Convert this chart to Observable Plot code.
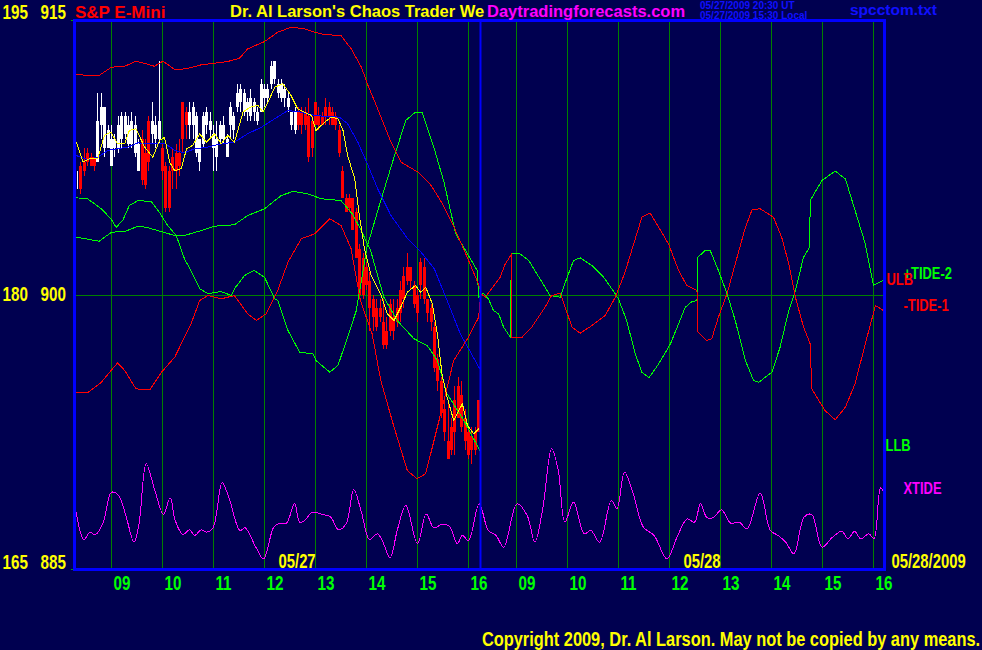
<!DOCTYPE html>
<html><head><meta charset="utf-8">
<script src="https://cdn.jsdelivr.net/npm/d3@7"></script>
<script src="https://cdn.jsdelivr.net/npm/@observablehq/plot@0.6"></script>
<style>
html,body{margin:0;padding:0;background:#000050;}
#wrap{position:relative;width:982px;height:650px;overflow:hidden;background:#000050;}
#chart{position:absolute;left:0;top:0;}
.t{position:absolute;white-space:nowrap;line-height:1;font-family:"Liberation Sans",Arial,sans-serif;font-weight:bold;}
.n{transform:scaleX(0.84);transform-origin:right center;}
</style></head><body>
<div id="wrap"><div id="chart"></div>
<div class="t" style="left:75px;top:4px;font-size:17px;color:#ff0000">S&amp;P E-Mini</div>
<div class="t" style="left:230px;top:3px;font-size:16.5px;color:#ffff00">Dr. Al Larson's Chaos Trader We</div>
<div class="t" style="left:487px;top:3px;font-size:16.5px;color:#ff00ff">Daytradingforecasts.com</div>
<div class="t" style="left:700px;top:1px;font-size:10px;color:#1010ff">05/27/2009 20:30 UT</div>
<div class="t" style="left:700px;top:10.5px;font-size:10px;color:#1010ff">05/27/2009 15:30 Local</div>
<div class="t" style="left:850px;top:2px;font-size:15.5px;color:#1010ff">spcctom.txt</div>
<div class="t n" style="right:2px;top:630px;font-size:19.5px;color:#ffff00">Copyright 2009, Dr. Al Larson. May not be copied by any means.</div>
</div>
<script>
// ---- axis / tick data ----
const tideTicks = [165, 180, 195];
const priceTicks = [885, 900, 915];
const hourLabels = ["09","10","11","12","13","14","15","16"];
const day1Hours = [0,1,2,3,4,5,6,7];       // hours after 09:00, session 05/27
const day2Offset = 7.94;                    // chart-hours where session 05/28 09:00 sits
const sessionBreak = 7.235;
const dateLabels = ["05/27", "05/28", "05/28/2009"];

// ---- 4-minute price bars, session 05/27 starting 08:20 ----
const firstBarMin = 500, barMinutes = 4;
const open = [906.25,907,907.25,907.75,907.5,907.5,907.25,909.25,908,908,907,908,908,908.5,908.75,908.25,908.25,907.75,906.75,908.5,
907.75,909.5,908.75,908.5,908.5,908,907,906.75,907.5,907.75,907.75,910.5,910,909.25,909.25,907.75,907.25,908.25,909.25,909,
908,907.5,908.5,908.5,907.5,909.25,909,910.25,910.5,910,910,909.75,910,909.5,910,910.75,910.75,911.5,911.75,911,
910.75,910.75,910.25,909.25,909,910,910,910,909.75,909.5,910.5,909.75,909.75,910.25,910.25,910,909.75,909,906.75,905.25,
905.25,905.25,904.5,902.5,902,901.5,900.75,899.75,899.25,899.25,898.5,898,899.5,898.75,899.25,900.25,901,901.5,901.5,900.5,
900,901.75,901.5,899.75,899.25,898.25,896.5,895.25,893.75,892,892.75,894.25,895,894.5,893.25,892.5,892.25,892.5,894.25];
const high = [906.75,907.25,908,908,907.75,907.5,911,911,910.25,909.25,909.25,908.75,909.75,910,910,909.75,910,909.75,908.5,909,
908.5,909.75,910.5,909.75,912.75,908.25,907.25,907,908,908.25,908.5,910.5,910.25,910.5,910.5,910,908.5,910,910.25,910,
909.25,909.5,909.5,909.75,908.75,910.5,910,911.5,911.5,911.25,910.75,911.25,910.75,910.25,911.75,911.5,911.5,912.75,912.75,911.75,
911.75,911.5,911,910,910.25,910.25,910.25,910.25,910.75,909.75,910.5,910.25,910,910.75,910.5,910.25,910,909.25,907,905.5,
905.5,905.25,904.75,902.75,902.25,901.75,901.25,900,899.75,899.75,899.75,898.75,899.75,899.75,899.75,900.75,901.5,902.25,901.5,900.75,
900.25,902,902,899.75,899.5,898.5,896.75,895.5,894.25,894.25,893.25,895,895.5,895.25,893.75,892.75,892.75,892.75,894.25];
const low = [905.75,905.5,906.5,907,907,906.75,907.25,908.5,907.5,908,907,907.5,907.75,908,908.5,908,908,907.5,906.75,906,
905.75,906.75,908.25,908,908.25,906.25,904.5,904.5,905.75,905.75,906.5,907.75,908.5,908.5,908.5,907.5,906.75,908,908.75,908.5,
906.75,906.75,908.25,908.25,907.5,908.5,908.5,910,910,909.75,909.5,909.5,909.5,909.25,910,910.25,910.5,911.25,911.5,910.75,
910.5,910.25,910,909,908.75,909,908.75,909,907.25,907.5,909.25,909,909.25,909.25,909.25,909.25,909,907.5,905.25,904.5,
904.5,903.5,902,900,899.75,900.25,898,898,898,898.5,897,897,897.75,897.5,898.25,898.5,899.25,900.5,900.25,899.25,
898.5,899.75,899.5,898.5,898,895.75,894.75,893.25,892,891,891.25,891.25,893.25,892.5,891.5,891,890.75,891.25,892.5];
const close = [906.25,905.75,906.75,907.25,907,907,909.5,910.25,910.25,909,908.5,908.5,909.25,909.75,909.75,909.25,909.5,909.25,908.25,906.25,
906,907.25,909.5,909.25,909.5,906.75,904.75,904.75,906.75,906.75,907,908.5,909.25,910,910.25,909.75,908.5,909.75,910,909.5,
908.75,908.5,909.25,909.25,908.5,910.25,909.75,911,911.25,911,910.5,910.75,910.5,910,911.5,911.25,911.25,912.5,912.75,911.5,
911.5,911.25,910.75,910,910,909.25,909.25,909.25,907.5,908,909.25,909.25,909.25,909.75,909.75,909.25,909.25,907.75,905.25,904.5,
904.75,903.5,902,900,900,900.5,899.25,898.75,898.25,898.75,897.25,897.25,898,898,898.5,899,899.75,900.75,900.75,899.5,
899,900.5,899.75,899,898.5,896,895.25,893.5,892.5,891,891.5,892.5,893.25,892.75,892,891.25,891.5,891.5,892.5];

// ---- series: [chart hours, value] ----
const ulb = [[-0.69,912.03],[-0.24,912.0],[0.0,912.45],[0.26,912.5],[0.48,912.78],[0.68,912.63],[0.84,912.5],[1.01,912.78],[1.24,912.32],[1.47,912.36],[1.76,912.58],[2.02,912.67],[2.28,912.76],[2.51,912.94],[2.67,913.45],[3.0,913.85],[3.26,914.36],[3.52,914.63],[3.78,914.55],[3.98,914.36],[4.18,914.23],[4.5,914.18],[4.7,913.45],[4.9,912.45],[5.03,911.45],[5.22,910.17],[5.48,908.35],[5.68,907.26],[6.01,906.71],[6.27,905.98],[6.47,905.07],[6.73,903.62],[6.96,902.16],[7.18,900.7],[7.24,900.25]];
const llb = [[-0.69,903.16],[-0.24,902.94],[0.0,903.43],[0.26,903.47],[0.52,903.76],[0.68,903.7],[0.91,903.52],[1.24,903.25],[1.43,903.25],[1.76,903.52],[2.02,903.76],[2.41,903.84],[2.67,904.34],[3.0,904.71],[3.33,905.44],[3.56,905.66],[3.85,905.53],[4.11,905.26],[4.5,905.16],[4.72,904.44],[4.88,903.62],[5.08,902.43],[5.34,899.88],[5.6,898.61],[5.93,897.61],[6.19,897.24],[6.39,896.42],[6.58,894.6],[6.91,893.14],[7.24,891.41]];
const tide1 = [[-0.73,174.66],[-0.47,174.66],[-0.2,175.23],[-0.01,175.87],[0.12,176.29],[0.26,175.87],[0.48,174.87],[0.75,174.82],[0.98,175.78],[1.24,176.6],[1.43,177.69],[1.56,178.43],[1.73,179.7],[1.89,179.97],[2.15,179.79],[2.41,179.97],[2.67,178.97],[2.84,178.61],[3.03,178.97],[3.26,180.25],[3.46,181.79],[3.72,183.07],[3.98,183.34],[4.28,184.16],[4.5,183.8],[4.7,182.52],[4.75,181.7],[4.88,179.7],[5.11,177.88],[5.28,175.33],[5.54,172.78],[5.8,170.41],[5.99,169.96],[6.16,170.23],[6.39,172.78],[6.71,176.42],[6.98,177.61],[7.2,178.79],[7.24,180.07],
[7.33,179.88],[7.46,180.36],[7.62,180.97],[7.72,181.7],[7.85,182.25],[7.851,177.69],[8.05,177.69],[8.24,178.24],[8.5,179.33],[8.63,179.97],[8.8,180.1],[9.03,178.24],[9.19,177.91],[9.42,178.33],[9.68,178.88],[9.88,179.88],[10.07,181.25],[10.24,182.8],[10.4,184.25],[10.56,184.49],[10.73,183.7],[10.92,182.8],[11.12,181.34],[11.28,180.52],[11.48,180.25],[11.5,177.97],[11.67,177.51],[11.77,177.61],[11.9,178.79],[12.07,180.07],[12.23,181.7],[12.43,183.7],[12.56,184.66],[12.72,184.71],[12.98,184.25],[13.14,183.16],[13.28,181.7],[13.41,179.88],[13.57,178.24],[13.7,177.33],[13.73,174.87],[13.99,173.69],[14.19,173.18],[14.39,173.87],[14.58,175.15],[14.78,177.33],[14.98,179.43],[15.15,179.12]];
const tide2 = [[-0.69,185.31],[-0.47,185.26],[-0.2,184.71],[-0.01,184.16],[0.09,183.7],[0.22,184.07],[0.35,184.89],[0.52,185.16],[0.78,185.11],[0.94,184.52],[1.1,183.8],[1.27,183.25],[1.43,181.98],[1.59,181.16],[1.73,180.34],[1.89,180.07],[2.15,180.19],[2.35,179.97],[2.41,180.34],[2.61,181.07],[2.8,181.34],[3.0,180.97],[3.2,179.79],[3.26,179.7],[3.46,178.06],[3.69,176.87],[3.95,176.79],[4.01,176.42],[4.28,175.78],[4.44,176.15],[4.63,177.69],[4.8,179.15],[5.01,182.61],[5.28,185.16],[5.54,187.53],[5.77,189.54],[5.96,189.99],[6.09,189.99],[6.32,188.08],[6.52,186.16],[6.75,183.34],[6.98,182.25],[7.17,181.34],[7.2,179.88],
[7.29,180.1],[7.39,179.79],[7.49,179.15],[7.59,178.97],[7.69,178.24],[7.82,177.69],[7.84,182.25],[8.01,182.25],[8.18,181.89],[8.34,181.16],[8.5,180.43],[8.6,179.97],[8.8,179.88],[8.9,180.7],[9.06,181.89],[9.19,182.03],[9.42,181.61],[9.65,180.97],[9.81,180.34],[9.94,179.79],[10.1,178.61],[10.27,176.79],[10.4,175.78],[10.54,175.48],[10.73,176.24],[10.96,177.33],[11.12,178.43],[11.25,179.33],[11.38,179.64],[11.48,179.7],[11.5,182.07],[11.64,182.43],[11.74,182.43],[11.9,181.34],[12.07,180.07],[12.23,178.61],[12.43,176.42],[12.59,175.33],[12.69,175.23],[12.95,175.78],[13.11,177.15],[13.28,179.15],[13.41,180.25],[13.57,182.07],[13.69,182.61],[13.7,185.16],[13.93,186.26],[14.19,186.77],[14.39,186.35],[14.58,184.62],[14.78,182.8],[14.94,180.52],[15.15,180.83]];
const slowAvg = [[-0.69,907.62],[-0.47,907.4],[-0.27,907.53],[-0.07,907.9],[0.12,907.99],[0.32,908.08],[0.52,908.32],[0.68,908.26],[0.84,908.26],[1.04,908.3],[1.24,907.9],[1.43,907.77],[1.63,907.99],[1.89,908.08],[2.15,908.26],[2.41,908.35],[2.67,908.81],[2.94,909.17],[3.2,909.63],[3.46,910.08],[3.72,909.99],[3.98,909.81],[4.24,909.75],[4.47,909.72],[4.63,909.36],[4.83,908.35],[5.03,907.08],[5.22,905.8],[5.48,904.34],[5.81,903.07],[6.07,902.34],[6.33,901.43],[6.58,899.7],[6.84,897.88],[7.22,895.97]];
const fastAvg = [[-0.69,908.35],[-0.56,907.26],[-0.43,907.44],[-0.27,907.44],[-0.14,908.72],[-0.01,908.9],[0.12,908.26],[0.26,908.26],[0.35,908.99],[0.48,909.08],[0.65,908.08],[0.81,907.53],[0.94,908.44],[1.04,908.62],[1.14,907.26],[1.24,906.8],[1.37,906.9],[1.47,907.99],[1.59,908.17],[1.73,908.81],[1.86,908.35],[2.02,908.81],[2.15,908.26],[2.28,908.72],[2.41,908.35],[2.58,909.99],[2.71,910.26],[2.87,910.36],[2.97,909.99],[3.07,910.54],[3.2,911.36],[3.36,911.54],[3.52,910.9],[3.65,910.17],[3.78,909.99],[3.92,909.81],[4.01,908.99],[4.18,909.44],[4.31,909.72],[4.44,909.63],[4.54,908.99],[4.63,907.62],[4.77,906.35],[4.86,904.34],[4.96,902.52],[5.09,901.07],[5.29,899.97],[5.41,898.97],[5.54,898.61],[5.67,899.33],[5.8,900.15],[5.96,900.52],[6.06,900.15],[6.16,900.43],[6.29,899.52],[6.39,897.88],[6.48,895.69],[6.58,894.42],[6.71,893.14],[6.81,893.69],[6.88,894.05],[6.98,892.87],[7.1,892.42],[7.2,892.69]];
const xtide = [[-0.71,168.4],[-0.54,166.64],[-0.42,167.04],[-0.32,166.9],[-0.17,167.5],[0.0,169.22],[0.14,169.04],[0.29,167.86],[0.44,166.49],[0.54,167.5],[0.68,170.78],[0.85,169.32],[1.02,168.01],[1.15,168.92],[1.25,167.68],[1.4,166.91],[1.53,167.17],[1.63,166.86],[1.76,167.17],[1.86,167.04],[1.99,167.28],[2.17,169.74],[2.3,168.95],[2.52,167.13],[2.62,167.28],[2.83,166.22],[2.98,165.58],[3.18,167.31],[3.28,167.5],[3.43,167.53],[3.59,168.62],[3.69,167.58],[3.79,167.68],[3.94,168.13],[4.14,168.01],[4.3,167.86],[4.45,167.17],[4.6,167.5],[4.75,169.37],[4.9,168.13],[5.06,166.64],[5.21,166.95],[5.31,166.58],[5.46,165.64],[5.61,167.22],[5.77,168.5],[6.0,166.4],[6.17,168.04],[6.32,167.28],[6.48,167.46],[6.63,167.35],[6.78,166.4],[6.88,166.86],[7.0,166.58],[7.21,168.59],[7.39,167.13],[7.54,166.86],[7.69,166.22],[7.95,168.59],[8.15,167.95],[8.3,166.49],[8.46,168.4],[8.63,171.6],[8.76,170.41],[8.89,167.58],[9.06,168.68],[9.27,166.95],[9.4,167.13],[9.57,166.49],[9.8,168.77],[9.91,168.32],[10.06,170.32],[10.23,169.14],[10.43,167.31],[10.64,166.86],[10.89,165.58],[11.09,166.77],[11.29,167.77],[11.43,167.58],[11.55,168.59],[11.67,167.86],[11.8,167.83],[11.96,168.26],[12.14,167.53],[12.31,167.58],[12.46,167.22],[12.72,169.17],[12.92,167.13],[13.07,166.86],[13.22,166.49],[13.38,165.86],[13.58,167.86],[13.73,168.01],[13.93,166.22],[14.14,166.77],[14.32,167.09],[14.44,166.68],[14.57,167.09],[14.69,166.68],[14.85,166.95],[14.95,166.68],[15.08,169.46],[15.16,169.14]];

// ---- build ----
const FONT = '"Liberation Sans",Arial,sans-serif';
const tideOffset = priceTicks[0] - tideTicks[0];
const gridX = day1Hours.concat(day1Hours.map(h => h + day2Offset));
const gridLabels = hourLabels.concat(hourLabels);
const bars = open.map((o, i) => ({t: (firstBarMin + i * barMinutes - 540) / 60, open: o, high: high[i], low: low[i], close: close[i]}));
const upBars = bars.filter(b => b.close >= b.open);
const downBars = bars.filter(b => b.close < b.open);

const CRISP = "crispEdges";
const priceLine = (data, stroke, extra = {}) => Plot.line(data, {x: d => d[0], y: d => d[1], stroke, strokeWidth: 1, shapeRendering: CRISP, ...extra});
const tideLine = (data, stroke, extra = {}) => Plot.line(data, {x: d => d[0], y: d => d[1] + tideOffset, stroke, strokeWidth: 1, shapeRendering: CRISP, ...extra});

const txt = {fontWeight: "bold", fontFamily: FONT};
const labelDy = [-7, 0, -8];
const leftLabels = [];
priceTicks.forEach((p, i) => {
  leftLabels.push(Plot.text([p], {y: d => d, text: d => String(d), frameAnchor: "left", textAnchor: "start", dx: -34, dy: labelDy[i], fill: "#ffff00", fontSize: 20, ...txt}));
  leftLabels.push(Plot.text([tideTicks[i]], {y: d => d + tideOffset, text: d => String(d), frameAnchor: "left", textAnchor: "start", dx: -72, dy: labelDy[i], fill: "#ffff00", fontSize: 20, ...txt}));
});

const chart = Plot.plot({
  width: 982, height: 650,
  marginLeft: 74, marginRight: 98, marginTop: 20, marginBottom: 81,
  x: {type: "linear", domain: [-0.7255, 15.157], axis: null},
  y: {domain: [885, 915], axis: null},
  style: {background: "transparent", overflow: "visible"},
  marks: [
    Plot.ruleX(gridX, {x: d => d, stroke: "#008000", strokeWidth: 1, shapeRendering: CRISP}),
    Plot.ruleY([priceTicks[1]], {stroke: "#008000", strokeWidth: 1, shapeRendering: CRISP}),
    Plot.ruleY([priceTicks[0], priceTicks[2]], {y: d => d, x1: -0.7255 - 0.06, x2: -0.7255, stroke: "#00a000"}),
    // price bars
    Plot.ruleX(upBars, {x: "t", y1: "low", y2: "high", stroke: "#ffffff", strokeWidth: 1, shapeRendering: CRISP}),
    Plot.ruleX(upBars, {x: "t", y1: "open", y2: "close", stroke: "#ffffff", strokeWidth: 3, shapeRendering: CRISP}),
    Plot.ruleX(downBars, {x: "t", y1: "low", y2: "high", stroke: "#ff0000", strokeWidth: 1, shapeRendering: CRISP}),
    Plot.ruleX(downBars, {x: "t", y1: "open", y2: "close", stroke: "#ff0000", strokeWidth: 3, shapeRendering: CRISP}),
    // bands and tides
    priceLine(llb, "#00ff00"),
    tideLine(tide2, "#00ff00"),
    priceLine(ulb, "#ff0000"),
    tideLine(tide1, "#ff0000"),
    tideLine(xtide, "#ff00ff", {curve: "catmull-rom"}),
    priceLine(slowAvg, "#0000ff"),
    priceLine(fastAvg, "#ffff00"),
    // frame and session divider
    Plot.ruleX([sessionBreak], {x: d => d, stroke: "#0000ff", strokeWidth: 2}),
    Plot.frame({stroke: "#0000ff", strokeWidth: 3}),
    // axis labels
    ...leftLabels,
    Plot.text(gridX, {x: d => d, text: (d, i) => gridLabels[i], frameAnchor: "bottom", lineAnchor: "bottom", dy: 20, dx: 2, textAnchor: "start", fill: "#00ff00", fontSize: 20, ...txt}),
    Plot.text([dateLabels[0]], {x: 3.275, text: d => d, frameAnchor: "bottom", lineAnchor: "bottom", dy: -2, textAnchor: "start", fill: "#ffff00", fontSize: 19.5, ...txt}),
    Plot.text([dateLabels[1]], {x: 11.216, text: d => d, frameAnchor: "bottom", lineAnchor: "bottom", dy: -2, textAnchor: "start", fill: "#ffff00", fontSize: 19.5, ...txt}),
    Plot.text([dateLabels[2]], {text: d => d, frameAnchor: "bottom-right", lineAnchor: "bottom", dy: -2, dx: 7, textAnchor: "start", fill: "#ffff00", fontSize: 19.5, ...txt}),
    // series labels
    Plot.text(["+TIDE-2"], {y: 901.15, text: d => d, frameAnchor: "right", dx: 19, textAnchor: "start", fill: "#00ff00", fontSize: 17, ...txt}),
    Plot.text(["ULB"], {y: 900.85, text: d => d, frameAnchor: "right", dx: 2, textAnchor: "start", fill: "#ff0000", fontSize: 17, ...txt}),
    Plot.text(["-TIDE-1"], {y: 899.45, text: d => d, frameAnchor: "right", dx: 19, textAnchor: "start", fill: "#ff0000", fontSize: 17, ...txt}),
    Plot.text(["LLB"], {y: 891.8, text: d => d, frameAnchor: "right", dx: 1, textAnchor: "start", fill: "#00ff00", fontSize: 17, ...txt}),
    Plot.text(["XTIDE"], {y: 889.43, text: d => d, frameAnchor: "right", dx: 19, textAnchor: "start", fill: "#ff00ff", fontSize: 17, ...txt})
  ]
});
document.getElementById("chart").appendChild(chart);
// condensed lettering like the original bitmap font: compress each label's advance width
d3.select(chart).selectAll("text").each(function () {
  const w = this.getComputedTextLength();
  if (w > 0) {
    this.setAttribute("textLength", (w * 0.76).toFixed(2));
    this.setAttribute("lengthAdjust", "spacingAndGlyphs");
  }
});
</script>
</body></html>
